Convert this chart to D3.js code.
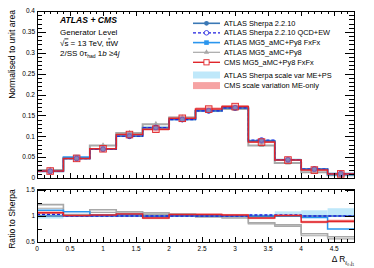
<!DOCTYPE html>
<html>
<head>
<meta charset="utf-8">
<script src="https://cdn.jsdelivr.net/npm/d3@7"></script>
<style>
body { margin: 0; background: #fff; }
svg text { font-family: "Liberation Sans", Arial, sans-serif; }
</style>
</head>
<body>
<svg width="374" height="268"></svg>
<script>

var edges = [0, 0.4, 0.8, 1.2, 1.6, 2.0, 2.4, 2.8, 3.2, 3.6, 4.0, 4.4, 4.8];

var sherpa = [0.0155, 0.0465, 0.069, 0.100, 0.121, 0.140, 0.161, 0.168, 0.089, 0.043, 0.0215, 0.0108],
	qcdew  = [0.016, 0.0465, 0.069, 0.100, 0.121, 0.140, 0.161, 0.168, 0.091, 0.044, 0.0215, 0.0108],
	fxfx   = [0.017, 0.050, 0.070, 0.103, 0.120, 0.141, 0.161, 0.168, 0.088, 0.043, 0.021, 0.008],
	mg5    = [0.019, 0.048, 0.078, 0.108, 0.129, 0.145, 0.161, 0.165, 0.078, 0.036, 0.014, 0.0065],
	cms    = [0.0167, 0.047, 0.070, 0.104, 0.117, 0.143, 0.165, 0.171, 0.086, 0.043, 0.019, 0.0098];

// ratios to Sherpa (lower panel)
var rQcdew = [1.03, 1.0, 1.0, 1.0, 1.0, 1.0, 1.0, 1.0, 1.02, 1.02, 1.0, 1.0],
	rFxfx  = [1.11, 1.08, 1.02, 1.03, 0.99, 1.01, 1.0, 1.0, 0.99, 1.0, 0.97, 0.75],
	rMg5   = [1.22, 1.03, 1.12, 1.08, 1.06, 1.04, 1.0, 0.98, 0.87, 0.83, 0.66, 0.60],
	rCms   = [1.065, 1.01, 1.02, 1.04, 0.96, 1.03, 1.03, 1.02, 0.96, 1.01, 0.885, 0.90];

// scale variation bands, relative
var sherpaLo = [0.95, 0.98, 0.98, 0.98, 0.98, 0.98, 0.98, 0.98, 0.99, 0.99, 0.99, 0.98],
	sherpaHi = [1.07, 1.03, 1.03, 1.02, 1.02, 1.02, 1.02, 1.02, 1.04, 1.09, 1.11, 1.15],
	cmsLo    = [1.04, 0.99, 1.00, 1.02, 0.94, 1.01, 1.01, 1.00, 0.94, 0.99, 0.86, 0.87],
	cmsHi    = [1.09, 1.03, 1.04, 1.06, 0.98, 1.05, 1.05, 1.04, 0.98, 1.03, 0.91, 0.93];

var mg5Lo = [1.15, 1.00, 1.07, 1.04, 1.03, 1.02, 0.98, 0.96, 0.85, 0.80, 0.62, 0.56];

var xTicks = [0, 0.5, 1, 1.5, 2, 2.5, 3, 3.5, 4, 4.5],
	yTicks = [0, 0.05, 0.1, 0.15, 0.2, 0.25, 0.3, 0.35, 0.4],
	rTicks = [0.5, 1, 1.5];

var legendNames = ["ATLAS Sherpa 2.2.10", "ATLAS Sherpa 2.2.10 QCD+EW",
	"ATLAS MG5_aMC+Py8 FxFx", "ATLAS MG5_aMC+Py8", "CMS MG5_aMC+Py8 FxFx",
	"ATLAS Sherpa scale var ME+PS", "CMS scale variation ME-only"];

// colours
var cSherpa = "#3a78b5", cQcdew = "#1f1fe0", cFxfx = "#2a96ee",
	cMg5 = "#a8a8a8", cCms = "#e0262b", cBandS = "#bfe8fa", cBandC = "#f6a3a3";

// scales......................................................................

var svg = d3.select("svg"),
	x = d3.scaleLinear().domain([0, 4.8]).range([37, 354]),
	y = d3.scaleLinear().domain([0, 0.4]).range([178, 11]),
	yr = d3.scaleLinear().domain([0.5, 1.52]).range([242, 189]);

var bins = d3.range(edges.length - 1);

function stepLine(vals, ys) {
	var pts = [];
	bins.forEach(function(i) {
		pts.push([x(edges[i]), ys(vals[i])]);
		pts.push([x(edges[i + 1]), ys(vals[i])]);
	});
	return d3.line()(pts);
}

function band(g, lo, hi, ys, color) {
	g.append("g").selectAll("rect")
		.data(bins)
		.enter().append("rect")
		.attr("x", function(i) { return x(edges[i]); })
		.attr("width", function(i) { return x(edges[i + 1]) - x(edges[i]); })
		.attr("y", function(i) { return ys(hi[i]); })
		.attr("height", function(i) { return Math.max(1, ys(lo[i]) - ys(hi[i])); })
		.attr("fill", color);
}

function step(g, vals, ys, color, w, dash) {
	g.append("path")
		.attr("d", stepLine(vals, ys))
		.attr("fill", "none")
		.attr("stroke", color)
		.attr("stroke-width", w)
		.attr("stroke-dasharray", dash || null);
}

// upper panel.................................................................

var up = svg.append("g");

var sLoAbs = sherpa.map(function(v, i) { return v * sherpaLo[i]; }),
	sHiAbs = sherpa.map(function(v, i) { return v * sherpaHi[i]; }),
	cLoAbs = sherpa.map(function(v, i) { return v * cmsLo[i]; }),
	cHiAbs = sherpa.map(function(v, i) { return v * cmsHi[i]; });

band(up, sLoAbs, sHiAbs, y, cBandS);
band(up, cLoAbs, cHiAbs, y, cBandC);
step(up, mg5, y, cMg5, 2);
step(up, fxfx, y, cFxfx, 1.6);
step(up, sherpa, y, cSherpa, 1.6);
step(up, qcdew, y, cQcdew, 1.2, "3,2");
step(up, cms, y, cCms, 1.5);

function centers(vals) {
	return bins.map(function(i) { return [x((edges[i] + edges[i + 1]) / 2), y(vals[i])]; });
}

up.append("g").selectAll("path").data(centers(mg5)).enter().append("path")
	.attr("d", d3.symbol(d3.symbolTriangle, 14))
	.attr("transform", function(d) { return "translate(" + d + ")"; })
	.attr("fill", cMg5);
up.append("g").selectAll("circle").data(centers(sherpa)).enter().append("circle")
	.attr("cx", function(d) { return d[0]; }).attr("cy", function(d) { return d[1]; })
	.attr("r", 2.6).attr("fill", cSherpa);
up.append("g").selectAll("rect").data(centers(fxfx)).enter().append("rect")
	.attr("x", function(d) { return d[0] - 2.3; }).attr("y", function(d) { return d[1] - 2.3; })
	.attr("width", 4.6).attr("height", 4.6).attr("fill", cFxfx);
up.append("g").selectAll("circle").data(centers(qcdew)).enter().append("circle")
	.attr("cx", function(d) { return d[0]; }).attr("cy", function(d) { return d[1]; })
	.attr("r", 2.4).attr("fill", "none").attr("stroke", cQcdew).attr("stroke-width", 0.8);
up.append("g").selectAll("rect").data(centers(cms)).enter().append("rect")
	.attr("x", function(d) { return d[0] - 3.3; }).attr("y", function(d) { return d[1] - 3.3; })
	.attr("width", 6.6).attr("height", 6.6)
	.attr("fill", "rgba(240,120,120,0.45)").attr("stroke", cCms).attr("stroke-width", 0.9);

// lower panel.................................................................

var lo = svg.append("g");

band(lo, sherpaLo, sherpaHi, yr, cBandS);
band(lo, cmsLo, cmsHi, yr, cBandC);
step(lo, rMg5, yr, cMg5, 1.6);
step(lo, mg5Lo, yr, cMg5, 1.2);
step(lo, rFxfx, yr, cFxfx, 1.5);
step(lo, bins.map(function() { return 1; }), yr, cSherpa, 1.4);
step(lo, rQcdew, yr, cQcdew, 1.3, "3,2");
step(lo, rCms, yr, cCms, 1.5);

// frames and ticks............................................................

function frame(ys, top, bottom, yMajor, yMinorStep, yLabels, xLabels) {
	var g = svg.append("g").attr("stroke", "#000").attr("shape-rendering", "crispEdges");
	var x0 = x.range()[0], x1 = x.range()[1];

	g.append("rect").attr("x", x0).attr("y", top).attr("width", x1 - x0)
		.attr("height", bottom - top).attr("fill", "none").attr("stroke-width", 1);

	// x ticks, bottom and top, pointing inward
	d3.range(0, 48).forEach(function(k) {
		var v = k / 10, px = Math.round(x(v)) + 0.5,
			len = (k % 5 === 0) ? 5 : 3;
		g.append("line").attr("x1", px).attr("x2", px).attr("y1", bottom).attr("y2", bottom - len);
		g.append("line").attr("x1", px).attr("x2", px).attr("y1", top).attr("y2", top + len);
	});

	// y ticks, left and right
	var d0 = ys.domain()[0], d1 = ys.domain()[1];
	d3.range(Math.ceil(d0 / yMinorStep - 1e-6), Math.floor(d1 / yMinorStep + 1e-6) + 1).forEach(function(k) {
		var v = k * yMinorStep, py = Math.round(ys(v)) + 0.5,
			major = yMajor.some(function(m) { return Math.abs(m - v) < 1e-6; }),
			len = major ? 9 : 5;
		g.append("line").attr("x1", x0).attr("x2", x0 + len).attr("y1", py).attr("y2", py);
		g.append("line").attr("x1", x1).attr("x2", x1 - len).attr("y1", py).attr("y2", py);
	});

	svg.append("g").selectAll("text").data(yMajor).enter().append("text")
		.attr("x", 35).attr("y", function(d) { return ys(d) + 2.3; })
		.attr("text-anchor", "end").attr("font-size", 6.5)
		.text(yLabels);

	if (xLabels)
		svg.append("g").selectAll("text").data(xTicks).enter().append("text")
			.attr("x", function(d) { return x(d); }).attr("y", bottom + 9)
			.attr("text-anchor", "middle").attr("font-size", 6.5)
			.text(function(d) { return d; });
}

frame(y, 11, 178, yTicks, 0.01, function(d) { return d; }, false);
frame(yr, 189, 242, rTicks, 0.25, function(d) { return d; }, true);

// axis titles.................................................................

svg.append("text")
	.attr("transform", "translate(15,10) rotate(-90)")
	.attr("text-anchor", "end").attr("font-size", 8.6)
	.text("Normalised to unit area");

svg.append("text")
	.attr("transform", "translate(15,219) rotate(-90)")
	.attr("text-anchor", "middle").attr("font-size", 8.6)
	.text("Ratio to Sherpa");

var xt = svg.append("text").attr("x", 354).attr("y", 262)
	.attr("text-anchor", "end").attr("font-size", 8.4);
xt.append("tspan").text("Δ R");
xt.append("tspan").attr("font-size", 5.5).attr("dy", 2.5).text("ℓ\u2080,j\u2081");

// labels......................................................................

svg.append("text").attr("x", 60).attr("y", 23)
	.attr("font-size", 8.6).attr("font-weight", "bold").attr("font-style", "italic")
	.text("ATLAS + CMS");
svg.append("text").attr("x", 60).attr("y", 35).attr("font-size", 8)
	.text("Generator Level");
var t3 = svg.append("text").attr("x", 60).attr("y", 45.5).attr("font-size", 8);
t3.append("tspan").text("√");
t3.append("tspan").attr("text-decoration", "overline").text("s");
t3.append("tspan").text(" = 13 TeV, t");
t3.append("tspan").attr("text-decoration", "overline").text("t");
t3.append("tspan").text("W");
var t4 = svg.append("text").attr("x", 60).attr("y", 56).attr("font-size", 8);
t4.append("tspan").text("2/SS 0τ");
t4.append("tspan").attr("font-size", 5).attr("dy", 2).text("had");
t4.append("tspan").attr("dy", -2).text(" 1");
t4.append("tspan").attr("font-style", "italic").text("b");
t4.append("tspan").text(" ≥4");
t4.append("tspan").attr("font-style", "italic").text("j");

// legend......................................................................

var legY = [23.3, 32.8, 42.6, 52.3, 62.3, 75, 85.6],
	lg = svg.append("g"),
	lx0 = 193, lx1 = 220, lxm = 206.5;

lg.selectAll("text").data(legendNames).enter().append("text")
	.attr("x", 224).attr("y", function(d, i) { return legY[i] + 2.6; })
	.attr("font-size", 7.4).text(function(d) { return d; });

function legLine(i, color, w, dash) {
	lg.append("line").attr("x1", lx0).attr("x2", lx1).attr("y1", legY[i]).attr("y2", legY[i])
		.attr("stroke", color).attr("stroke-width", w).attr("stroke-dasharray", dash || null);
}
legLine(0, cSherpa, 1.6);
lg.append("circle").attr("cx", lxm).attr("cy", legY[0]).attr("r", 2.4).attr("fill", cSherpa);
legLine(1, cQcdew, 1.2, "3,2");
lg.append("circle").attr("cx", lxm).attr("cy", legY[1]).attr("r", 2.3)
	.attr("fill", "#fff").attr("stroke", cQcdew).attr("stroke-width", 0.8);
legLine(2, cFxfx, 1.6);
lg.append("rect").attr("x", lxm - 2.3).attr("y", legY[2] - 2.3).attr("width", 4.6).attr("height", 4.6)
	.attr("fill", cFxfx);
legLine(3, cMg5, 1.2);
lg.append("path").attr("d", d3.symbol(d3.symbolTriangle, 12))
	.attr("transform", "translate(" + lxm + "," + legY[3] + ")").attr("fill", cMg5);
legLine(4, cCms, 1.4);
lg.append("rect").attr("x", lxm - 2.6).attr("y", legY[4] - 2.6).attr("width", 5.2).attr("height", 5.2)
	.attr("fill", "#fff").attr("stroke", cCms).attr("stroke-width", 0.9);
lg.append("rect").attr("x", lx0).attr("y", legY[5] - 3.5).attr("width", lx1 - lx0).attr("height", 7)
	.attr("fill", cBandS);
lg.append("rect").attr("x", lx0).attr("y", legY[6] - 3.5).attr("width", lx1 - lx0).attr("height", 7)
	.attr("fill", cBandC);
</script>
</body>
</html>
